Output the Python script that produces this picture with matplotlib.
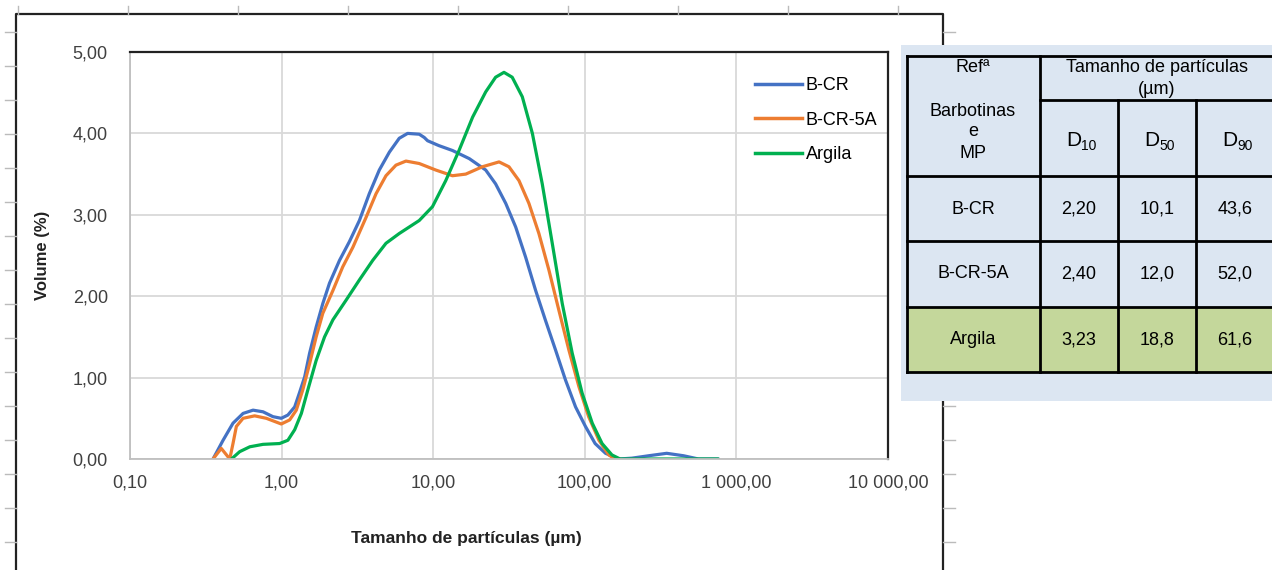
import numpy as np
import matplotlib
matplotlib.use('Agg')
import matplotlib.pyplot as plt
from matplotlib.lines import Line2D
from matplotlib.patches import Rectangle

plt.rcParams['font.family'] = ['Liberation Sans', 'DejaVu Sans']

# curve data (particle size in um, volume %)
bcr_x = [0.353, 0.411, 0.478, 0.557, 0.648, 0.754, 0.877, 0.995, 1.10, 1.22, 1.31, 1.42, 1.53,
         1.69, 1.87, 2.07, 2.41, 2.80, 3.26, 3.79, 4.41, 5.14, 5.97, 6.78, 8.09, 8.73, 9.18,
         10.9, 13.4, 17.3, 22.2, 25.8, 30.1, 35.0, 40.7, 47.4, 55.1, 64.1, 74.6, 86.9, 101,
         117, 137, 167, 204, 264, 347, 448, 562, 760]
bcr_y = [0, 0.23, 0.44, 0.56, 0.60, 0.58, 0.52, 0.50, 0.54, 0.64, 0.81, 1.01, 1.30,
         1.62, 1.91, 2.16, 2.44, 2.67, 2.93, 3.26, 3.55, 3.77, 3.94, 4.0, 3.99, 3.95, 3.91,
         3.85, 3.79, 3.69, 3.55, 3.38, 3.14, 2.85, 2.48, 2.07, 1.70, 1.34, 0.97, 0.64, 0.40,
         0.19, 0.07, 0, 0.01, 0.04, 0.07, 0.04, 0, 0]

bcr5a_x = [0.353, 0.40, 0.433, 0.455, 0.478, 0.503, 0.557, 0.664, 0.793, 0.995, 1.13, 1.25,
           1.38, 1.53, 1.69, 1.87, 2.18, 2.53, 2.95, 3.61, 4.2, 4.88, 5.68, 6.61, 8.09, 10.4,
           13.4, 16.4, 21.1, 27.2, 31.6, 36.8, 42.8, 49.8, 58.0, 67.4, 78.5, 91.4, 106, 124,
           144, 158, 170]
bcr5a_y = [0, 0.13, 0.05, 0, 0.19, 0.40, 0.50, 0.53, 0.50, 0.43, 0.48, 0.60,
           0.85, 1.17, 1.50, 1.79, 2.07, 2.36, 2.60, 2.97, 3.26, 3.48, 3.61, 3.66, 3.63, 3.55,
           3.48, 3.50, 3.59, 3.65, 3.59, 3.42, 3.14, 2.77, 2.32, 1.83, 1.34, 0.89, 0.52, 0.23,
           0.05, 0, 0]

argila_x = [0.467, 0.529, 0.617, 0.754, 0.97, 1.10, 1.22, 1.35, 1.49, 1.69, 1.92, 2.18, 2.66,
            3.26, 3.99, 4.88, 5.97, 6.95, 8.09, 9.89, 12.1, 14.8, 18.2, 22.2, 25.8, 29.3, 33.2,
            38.7, 45.1, 52.4, 61.0, 71.0, 82.6, 96.0, 112, 130, 151, 171, 300, 760]
argila_y = [0, 0.09, 0.15, 0.18, 0.19, 0.23, 0.36, 0.56, 0.85, 1.21, 1.50, 1.71, 1.95,
            2.20, 2.44, 2.65, 2.77, 2.85, 2.93, 3.10, 3.42, 3.79, 4.20, 4.51, 4.69, 4.75, 4.69,
            4.45, 4.00, 3.38, 2.65, 1.91, 1.30, 0.81, 0.44, 0.19, 0.05, 0, 0, 0]

series_names = ['B-CR', 'B-CR-5A', 'Argila']
colors = ['#4472C4', '#ED7D31', '#00B050']

x_ticks = [0.1, 1, 10, 100, 1000, 10000]
x_tick_labels = ['0,10', '1,00', '10,00', '100,00', '1 000,00', '10 000,00']
y_ticks = [0, 1, 2, 3, 4, 5]
y_tick_labels = ['0,00', '1,00', '2,00', '3,00', '4,00', '5,00']

# table data
table_rows = ['B-CR', 'B-CR-5A', 'Argila']
d10 = ['2,20', '2,40', '3,23']
d50 = ['10,1', '12,0', '18,8']
d90 = ['43,6', '52,0', '61,6']

W, H = 1272, 570
fig = plt.figure(figsize=(W / 100, H / 100), dpi=100)

# background layer in pixel coords (page frame + table)
bg = fig.add_axes([0, 0, 1, 1], zorder=0)
bg.set_xlim(0, W)
bg.set_ylim(H, 0)
bg.axis('off')

# page frame and ruler ticks
bg.plot([16, 16, 943, 943], [H, 14, 14, H], color='#222222', lw=1.6, zorder=1)
for yy in range(32, H, 34):
    bg.plot([5, 16], [yy, yy], color='#bbbbbb', lw=1, zorder=1)
    bg.plot([943, 955], [yy, yy], color='#bbbbbb', lw=1, zorder=1)
for xx in range(18, 943, 110):
    bg.plot([xx, xx], [6, 14], color='#bbbbbb', lw=1, zorder=1)

# table panel
bg.add_patch(Rectangle((901, 45), W - 901, 356, facecolor='#DCE6F2', edgecolor='none', zorder=3))
bg.add_patch(Rectangle((907, 307), W - 907, 65, facecolor='#C4D79B', edgecolor='none', zorder=3))
row_y = [56, 176, 241, 307, 372]
lk = dict(color='black', lw=2, zorder=4)
for yy in row_y:
    bg.plot([907, 1280], [yy, yy], **lk)
bg.plot([1040, 1280], [100, 100], **lk)
bg.plot([907, 907], [56, 372], **lk)
bg.plot([1040, 1040], [56, 372], **lk)
for xx in [1118, 1196]:
    bg.plot([xx, xx], [100, 372], **lk)

fs = 13
tk = dict(ha='center', va='center', fontsize=fs, zorder=5)
bg.text(973, 68, 'Refª', **tk)
bg.text(973, 112, 'Barbotinas', **tk)
bg.text(973, 132, 'e', **tk)
bg.text(973, 153, 'MP', **tk)
bg.text(1157, 68, 'Tamanho de partículas', **tk)
bg.text(1157, 89, '(µm)', **tk)
for cx, sub in zip([1079, 1157, 1235], ['10', '50', '90']):
    bg.text(cx + 2, 141, 'D', ha='right', va='center', fontsize=15, zorder=5)
    bg.text(cx + 2, 146, sub, ha='left', va='center', fontsize=10, zorder=5)
for i, name in enumerate(table_rows):
    cy = [209, 274, 340][i]
    bg.text(973, cy, name, **tk)
    bg.text(1079, cy, d10[i], **tk)
    bg.text(1157, cy, d50[i], **tk)
    bg.text(1235, cy, d90[i], **tk)

# chart
ax = fig.add_axes([130 / W, 1 - 459 / H, (888 - 130) / W, (459 - 52) / H], zorder=1)
ax.patch.set_alpha(0)
for xs, ys, c, n in zip([bcr_x, bcr5a_x, argila_x], [bcr_y, bcr5a_y, argila_y], colors, series_names):
    ax.plot(xs, ys, color=c, lw=2.3, label=n, solid_joinstyle='round', solid_capstyle='round')

ax.set_xscale('log')
ax.set_xlim(0.1, 10000)
ax.set_ylim(0, 5)
ax.set_xticks(x_ticks)
ax.set_xticklabels(x_tick_labels)
ax.minorticks_off()
ax.set_yticks(y_ticks)
ax.set_yticklabels(y_tick_labels)
ax.tick_params(length=0, labelsize=13, colors='#404040')
ax.tick_params(axis='x', pad=11)
ax.tick_params(axis='y', pad=16)
ax.grid(True, color='#d9d9d9', lw=1.3)
ax.set_axisbelow(True)
for s in ['left', 'bottom']:
    ax.spines[s].set_color('#bfbfbf')
    ax.spines[s].set_linewidth(1.3)
for s in ['top', 'right']:
    ax.spines[s].set_color('#222222')
    ax.spines[s].set_linewidth(1.6)

fig.text(42 / W, 1 - 255 / H, 'Volume (%)', rotation=90, ha='center', va='center',
         fontsize=12, weight='bold', color='#222222')
fig.text(466 / W, 1 - 538 / H, 'Tamanho de partículas (µm)', ha='center', va='center',
         fontsize=12.5, weight='bold', color='#222222')

handles = [Line2D([], [], color=c, lw=2.5) for c in colors]
ax.legend(handles, series_names, loc='upper left', bbox_to_anchor=(755 / W, 1 - 77 / H),
          bbox_transform=fig.transFigure, frameon=False, fontsize=13, borderpad=0,
          handlelength=2.6, handletextpad=0.2, labelspacing=0.98, borderaxespad=0)

fig.savefig('out.png', dpi=100)
